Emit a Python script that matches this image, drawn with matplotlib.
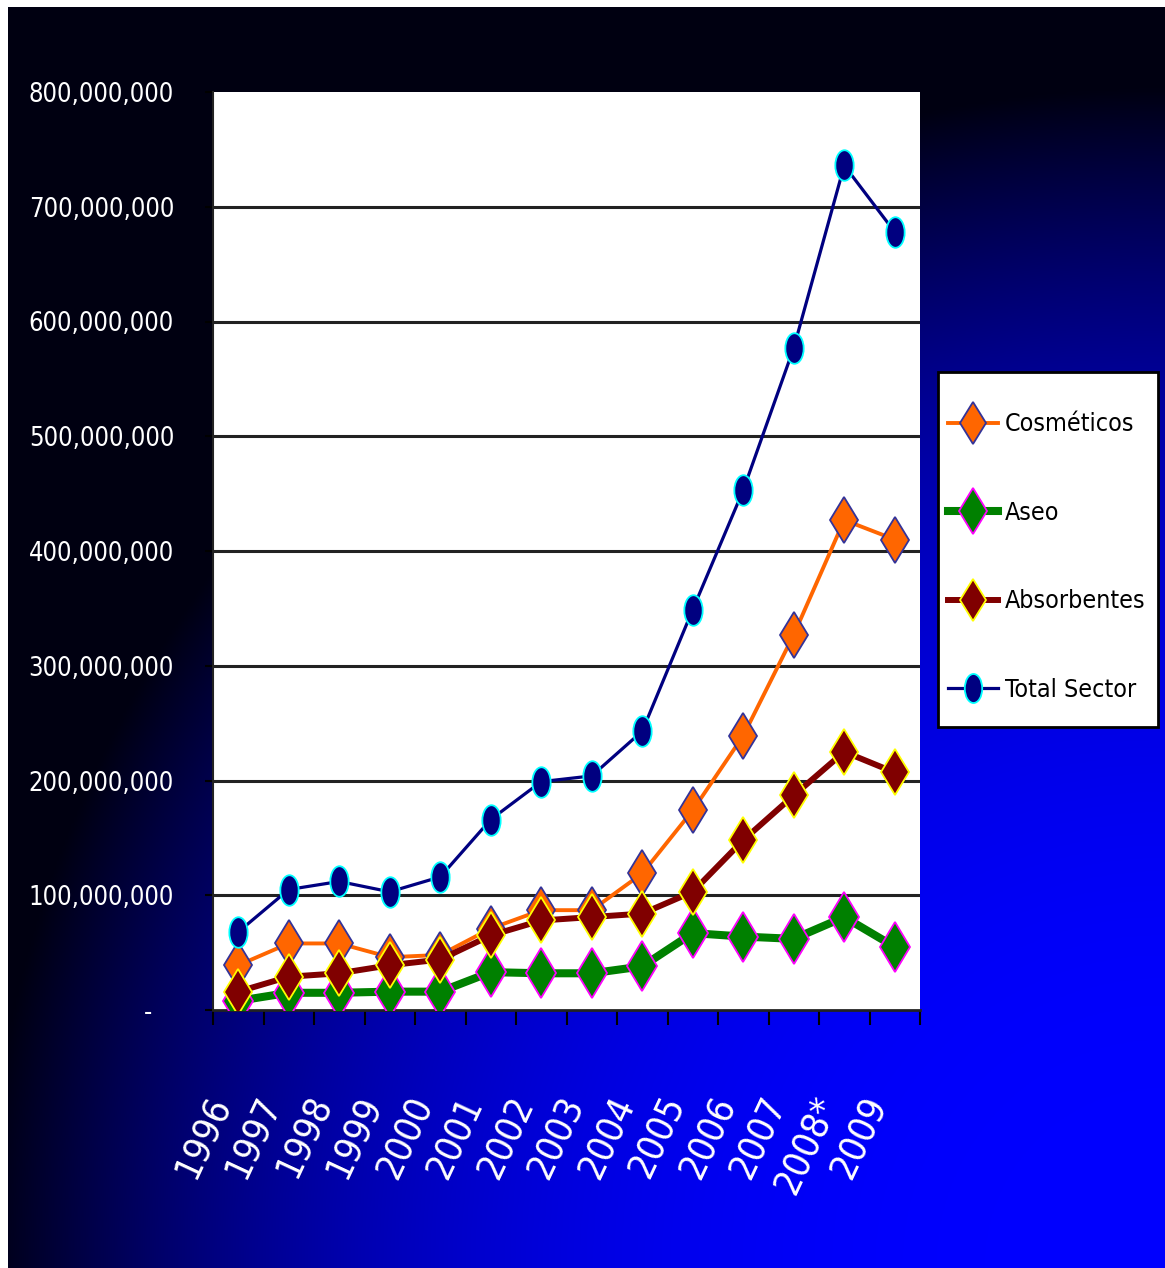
import numpy as np
import matplotlib
matplotlib.use('Agg')
import matplotlib.pyplot as plt
from matplotlib import font_manager
from matplotlib.font_manager import FontProperties
from matplotlib.patches import Rectangle
from matplotlib.path import Path
from matplotlib.ticker import FuncFormatter, MultipleLocator

#data
years = ["1996", "1997", "1998", "1999", "2000", "2001", "2002", "2003",
         "2004", "2005", "2006", "2007", "2008*", "2009"]
cosmeticos = [39e6, 58e6, 58e6, 46e6, 48e6, 71e6, 87e6, 87e6, 119e6, 174e6, 239e6, 327e6, 427e6, 410e6]
aseo = [8e6, 15e6, 15e6, 16e6, 16e6, 33e6, 32e6, 32e6, 38e6, 67e6, 64e6, 62e6, 81e6, 55e6]
absorbentes = [16e6, 29e6, 32e6, 39e6, 44e6, 65e6, 78e6, 81e6, 84e6, 103e6, 148e6, 187e6, 225e6, 207e6]
total_sector = [68e6, 105e6, 112e6, 103e6, 116e6, 166e6, 199e6, 204e6, 243e6, 349e6, 453e6, 577e6, 736e6, 678e6]
series_names = ["Cosméticos", "Aseo", "Absorbentes", "Total Sector"]

# look for a narrow / condensed sans if one happens to be installed
font_file = None
for f in font_manager.fontManager.ttflist:
    fn = f.fname.lower()
    if ("narrow" in fn or "condensed" in fn) and "bold" not in fn and "italic" not in fn \
            and "oblique" not in fn and "light" not in fn and "mono" not in fn and "serif" not in fn:
        font_file = f.fname
        break

def fprop(size):
    if font_file:
        return FontProperties(fname=font_file, size=size)
    return FontProperties(family=['Liberation Sans', 'DejaVu Sans'], size=size)

W, H = 1165, 1268
fig = plt.figure(figsize=(W / 100, H / 100), dpi=100)
fig.patch.set_facecolor('white')
renderer = fig.canvas.get_renderer()

def fit_size(text, width_px, max_size):
    t = fig.text(0, 0, text, fontproperties=fprop(10))
    w = t.get_window_extent(renderer).width
    t.remove()
    return min(max_size, 10 * width_px / w)

ysize = fit_size("800,000,000", 147, 29)
lsize = fit_size("Absorbentes", 140, 27)

# background gradient (dark top-left -> bright blue bottom-right)
bg = fig.add_axes([8 / W, 0, 1 - 8 / W, 1 - 7 / H])
xx, yy = np.meshgrid(np.linspace(8, W, 400), np.linspace(7, H, 400))
d = np.sqrt((W - xx) ** 2 + (H - yy) ** 2) / 1180.0
v = 0.07 + 0.93 * np.clip(1 - d ** 2.9, 0, 1)
img = np.zeros((400, 400, 3))
img[..., 2] = v
bg.imshow(img, aspect='auto', extent=[0, 1, 0, 1], origin='upper')
bg.set_axis_off()

ax = fig.add_axes([213 / W, (H - 1010) / H, 707 / W, (1010 - 92) / H])
ax.set_facecolor('white')
x = np.arange(len(years))

# ellipse marker for Total Sector
circ = Path.unit_circle()
ellipse = Path(circ.vertices * np.array([0.6, 1.0]), circ.codes)

ax.plot(x, cosmeticos, color='#FF6600', lw=2.8, marker='d', markersize=23,
        markerfacecolor='#FF6600', markeredgecolor='#333399', markeredgewidth=1.3,
        label=series_names[0], zorder=3)
ax.plot(x, aseo, color='#008000', lw=5.8, marker='d', markersize=25,
        markerfacecolor='#008000', markeredgecolor='#FF00FF', markeredgewidth=1.3,
        label=series_names[1], zorder=4)
ax.plot(x, absorbentes, color='#800000', lw=4.3, marker='d', markersize=23,
        markerfacecolor='#800000', markeredgecolor='#FFFF00', markeredgewidth=1.3,
        label=series_names[2], zorder=5)
ax.plot(x, total_sector, color='#000080', lw=2.3, marker=ellipse, markersize=22,
        markerfacecolor='#000080', markeredgecolor='#00FFFF', markeredgewidth=1.3,
        label=series_names[3], zorder=6)

ax.set_xlim(-0.5, len(years) - 0.5)
ax.set_ylim(0, 800e6)
ax.yaxis.set_major_locator(MultipleLocator(100e6))
ax.yaxis.set_major_formatter(FuncFormatter(lambda v, p: "-   " if v == 0 else "{:,.0f}".format(v)))
for yv in range(100, 800, 100):
    ax.axhline(yv * 1e6, color='#222222', lw=2.2, zorder=1)

ax.set_xticks(x)
ax.set_xticklabels(years, rotation=65, ha='right', va='top', color='white',
                   fontproperties=fprop(27))
ax.set_xticks(np.arange(-0.5, len(years), 1), minor=True)
ax.tick_params(axis='x', which='major', length=0, pad=58)
ax.tick_params(axis='x', which='minor', length=11, width=1.5, color='black', direction='out')
ax.tick_params(axis='y', which='major', length=6, width=1.5, color='black', pad=22,
               labelcolor='white')
for lab in ax.get_yticklabels():
    lab.set_fontproperties(fprop(ysize))

for s in ['top', 'right']:
    ax.spines[s].set_visible(False)
ax.spines['left'].set_color('#222222')
ax.spines['left'].set_linewidth(1.5)
ax.spines['bottom'].set_color('#222222')
ax.spines['bottom'].set_linewidth(2.0)

# legend box drawn by hand so the padding can differ in x and y
box = Rectangle((938 / W, (H - 727) / H), 220 / W, 355 / H, transform=fig.transFigure,
                facecolor='white', edgecolor='black', lw=2.0, zorder=4)
fig.patches.append(box)

lpx = lsize * 100 / 72.0
row_h = 1.17 * lpx
leg = fig.legend(loc='upper left', bbox_to_anchor=(948 / W, (H - 427 + row_h / 2) / H),
                 frameon=False, prop=fprop(lsize), labelspacing=(93.5 - row_h) / lpx,
                 borderpad=0, handlelength=50 / lpx, handletextpad=7 / lpx,
                 borderaxespad=0, markerscale=0.95)
leg.set_zorder(5)

fig.savefig('out.png', dpi=100, facecolor=fig.get_facecolor())
